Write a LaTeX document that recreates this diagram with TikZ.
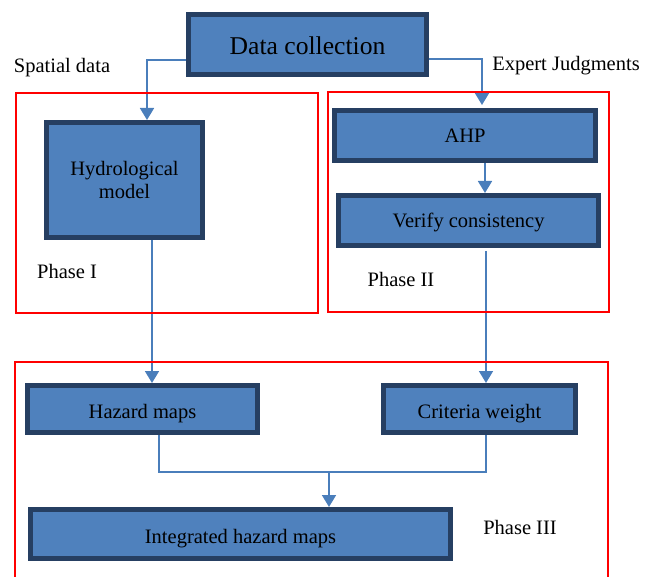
\documentclass[tikz,border=0pt]{standalone}
\usepackage{fontspec}
\setmainfont{Liberation Serif}
\usetikzlibrary{arrows.meta,backgrounds}

\definecolor{boxfill}{HTML}{4F81BD}
\definecolor{boxline}{HTML}{263F62}
\definecolor{flow}{HTML}{4A7EBB}
\definecolor{phase}{HTML}{FF0000}

\tikzset{
  stepbox/.style={draw=boxline, fill=boxfill, line width=5pt, inner sep=0pt,
    align=center, font=\fontsize{20.5}{23}\selectfont},
  oneline/.style={text height=#1, text depth=0pt},
  phasebox/.style={draw=phase, line width=2.5pt},
  flowline/.style={draw=flow, line width=1.7pt},
  flowarrow/.style={flowline, -{Triangle[width=14pt,length=12pt]}},
  caption/.style={inner sep=0pt, font=\fontsize{20.5}{24}\selectfont},
}

\begin{document}
\begin{tikzpicture}[x=1pt, y=-1pt]
  \clip (0,0) rectangle (645,577);

  % phase frames
  \draw[phasebox] (16,93) rectangle (318,313);
  \draw[phasebox] (328,92) rectangle (609,312);
  \draw[phasebox] (15,362) rectangle (608,600);

  % process boxes
  \node[stepbox, oneline=21pt, minimum width=238pt, minimum height=60pt,
        font=\fontsize{25.6}{30}\selectfont] (data) at (307.5,44.5) {Data collection};
  \node[stepbox, minimum width=156pt, minimum height=115pt] (hydro) at (124.5,180) {Hydrological\\model};
  \node[stepbox, oneline=15pt, minimum width=261pt, minimum height=50pt] (ahp) at (465,135.5) {AHP};
  \node[stepbox, oneline=15pt, minimum width=260pt, minimum height=50pt] (verify) at (468.5,220.5) {Verify consistency};
  \node[stepbox, oneline=18pt, minimum width=230pt, minimum height=47pt] (hazard) at (142.5,409) {Hazard maps};
  \node[stepbox, oneline=18pt, minimum width=192pt, minimum height=47pt] (criteria) at (479.5,409) {Criteria weight};
  \node[stepbox, oneline=18pt, minimum width=420pt, minimum height=49pt] (integ) at (240.5,534) {Integrated hazard maps};

  % labels
  \node[caption] (spatial) at (62,68) {Spatial data};
  \node[caption] (expert) at (566,66) {Expert Judgments};
  \node[caption] (p1) at (67,271) {Phase I};
  \node[caption] (p2) at (401,279) {Phase II};
  \node[caption] (p3) at (520,527) {Phase III};

  \coordinate (join) at (329,472);

  % connectors
  \begin{scope}[on background layer]
    \draw[flowarrow] ([yshift=-15.5pt]data.west) -| ([xshift=22.5pt]hydro.north);
    \draw[flowarrow] ([yshift=-14.5pt]data.east) -| ([xshift=17pt,yshift=3pt]ahp.north);
    \draw[flowarrow] ([xshift=20pt]ahp.south) -- ([xshift=20pt]ahp.south |- verify.north);
    \draw[flowarrow] ([xshift=27.5pt]hydro.south) -- ([xshift=27.5pt]hydro.south |- hazard.north);
    \draw[flowarrow] ([xshift=17.5pt,yshift=-3pt]verify.south) -- ([xshift=17.5pt]verify.south |- criteria.north);
    \draw[flowline] ([xshift=16.5pt]hazard.south) |- (join) -| ([xshift=6.5pt]criteria.south);
    \draw[flowarrow] (join) -- (join |- integ.north);
  \end{scope}
\end{tikzpicture}
\end{document}
